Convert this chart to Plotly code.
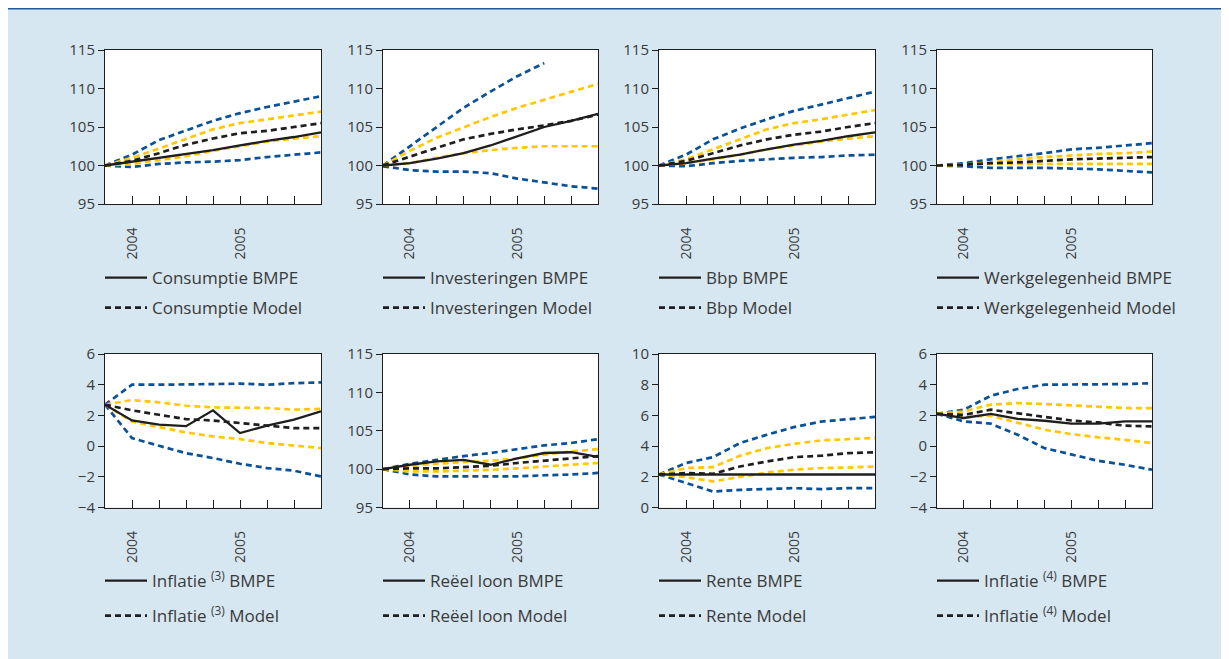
import plotly.graph_objects as go

W, H = 1229, 659

quarters = list(range(9))
tick_vals = [1, 5]
tick_text = ["2004", "2005"]

# ---- Consumptie ----
cons_bmpe = [100, 100.5, 101.0, 101.5, 102.0, 102.6, 103.2, 103.7, 104.3]
cons_model = [100, 100.6, 101.6, 102.7, 103.5, 104.2, 104.5, 105.0, 105.5]
cons_hi90 = [100, 101.4, 103.3, 104.6, 105.8, 106.8, 107.6, 108.3, 109.0]
cons_hi50 = [100, 101.0, 102.2, 103.5, 104.7, 105.5, 106.0, 106.5, 107.0]
cons_lo50 = [100, 100.2, 100.7, 101.2, 101.9, 102.5, 103.1, 103.5, 103.8]
cons_lo90 = [100, 99.8, 100.2, 100.4, 100.5, 100.7, 101.1, 101.4, 101.7]

# ---- Investeringen ----
inv_bmpe = [100, 100.3, 100.9, 101.6, 102.6, 103.8, 105.0, 105.8, 106.7]
inv_model = [100, 101.2, 102.3, 103.4, 104.1, 104.7, 105.2, 105.8, 106.6]
inv_hi90 = [100, 102.5, 105.0, 107.5, 109.6, 111.6, 113.3, None, None]
inv_hi50 = [100, 101.9, 103.6, 105.0, 106.3, 107.5, 108.5, 109.6, 110.6]
inv_lo50 = [100, 100.3, 101.0, 101.6, 102.0, 102.3, 102.5, 102.5, 102.5]
inv_lo90 = [99.9, 99.4, 99.2, 99.2, 99.0, 98.3, 97.8, 97.3, 97.0]

# ---- Bbp ----
bbp_bmpe = [100, 100.3, 100.9, 101.4, 102.1, 102.7, 103.2, 103.8, 104.3]
bbp_model = [100, 100.6, 101.6, 102.6, 103.4, 104.0, 104.4, 105.0, 105.5]
bbp_hi90 = [100, 101.4, 103.4, 104.8, 106.0, 107.1, 107.9, 108.8, 109.6]
bbp_hi50 = [100, 100.8, 102.1, 103.4, 104.7, 105.5, 106.0, 106.6, 107.2]
bbp_lo50 = [100, 100.3, 100.8, 101.4, 102.1, 102.6, 103.1, 103.5, 103.8]
bbp_lo90 = [100, 99.9, 100.3, 100.6, 100.8, 101.0, 101.1, 101.3, 101.4]

# ---- Werkgelegenheid ----
werk_bmpe = [None] * 9
werk_model = [100, 100.1, 100.3, 100.4, 100.6, 100.8, 100.9, 101.0, 101.1]
werk_hi90 = [100, 100.3, 100.8, 101.2, 101.6, 102.1, 102.3, 102.6, 102.9]
werk_hi50 = [100, 100.1, 100.4, 100.8, 101.1, 101.3, 101.5, 101.6, 101.8]
werk_lo50 = [100, 100.1, 100.2, 100.2, 100.2, 100.2, 100.2, 100.2, 100.2]
werk_lo90 = [100, 99.9, 99.7, 99.7, 99.7, 99.6, 99.5, 99.3, 99.1]

# ---- Inflatie (3) ----
inf3_bmpe = [2.7, 1.67, 1.4, 1.3, 2.33, 0.85, 1.33, 1.72, 2.26]
inf3_model = [2.7, 2.33, 2.04, 1.76, 1.67, 1.5, 1.33, 1.17, 1.17]
inf3_hi90 = [2.7, 4.0, 4.0, 4.04, 4.04, 4.07, 4.0, 4.1, 4.15]
inf3_hi50 = [2.7, 3.0, 2.85, 2.63, 2.52, 2.52, 2.48, 2.37, 2.43]
inf3_lo50 = [2.7, 1.6, 1.24, 0.89, 0.63, 0.46, 0.2, 0.02, -0.13]
inf3_lo90 = [2.7, 0.52, 0.02, -0.46, -0.78, -1.15, -1.43, -1.6, -1.98]

# ---- Reëel loon ----
loon_bmpe = [100, 100.57, 101.0, 101.2, 100.57, 101.4, 102.1, 102.2, 101.6]
loon_model = [100, 100.1, 100.1, 100.26, 100.44, 100.8, 101.1, 101.4, 101.7]
loon_hi90 = [100, 100.7, 101.2, 101.7, 102.1, 102.6, 103.1, 103.4, 103.9]
loon_hi50 = [100, 100.4, 100.7, 100.9, 101.1, 101.4, 101.9, 102.3, 102.6]
loon_lo50 = [100, 99.7, 99.7, 99.8, 99.9, 100.1, 100.35, 100.57, 100.8]
loon_lo90 = [100, 99.3, 99.05, 99.05, 99.05, 99.05, 99.2, 99.3, 99.5]

# ---- Rente ----
rente_bmpe = [2.15, 2.15, 2.15, 2.15, 2.15, 2.15, 2.15, 2.15, 2.15]
rente_model = [2.15, 2.24, 2.2, 2.67, 3.0, 3.28, 3.37, 3.54, 3.6]
rente_hi90 = [2.15, 2.9, 3.28, 4.2, 4.74, 5.24, 5.6, 5.76, 5.9]
rente_hi50 = [2.15, 2.57, 2.63, 3.37, 3.87, 4.15, 4.37, 4.46, 4.54]
rente_lo50 = [2.15, 1.98, 1.7, 1.98, 2.28, 2.46, 2.57, 2.6, 2.67]
rente_lo90 = [2.15, 1.59, 1.04, 1.15, 1.2, 1.26, 1.2, 1.26, 1.26]

# ---- Inflatie (4) ----
inf4_bmpe = [2.1, 1.83, 2.1, 1.78, 1.65, 1.46, 1.46, 1.61, 1.61]
inf4_model = [2.1, 2.04, 2.37, 2.15, 1.89, 1.67, 1.54, 1.33, 1.28]
inf4_hi90 = [2.1, 2.37, 3.28, 3.72, 4.0, 4.0, 4.0, 4.04, 4.1]
inf4_hi50 = [2.1, 2.26, 2.7, 2.8, 2.74, 2.65, 2.54, 2.48, 2.48]
inf4_lo50 = [2.1, 1.89, 1.98, 1.54, 1.07, 0.78, 0.57, 0.41, 0.2]
inf4_lo90 = [2.1, 1.61, 1.46, 0.74, -0.13, -0.57, -0.96, -1.22, -1.54]

labels = [
    "Consumptie", "Investeringen", "Bbp", "Werkgelegenheid",
    "Inflatie <sup>(3)</sup>", "Reëel loon", "Rente", "Inflatie <sup>(4)</sup>",
]
y_ranges = [[95, 115]] * 4 + [[-4, 6], [95, 115], [0, 10], [-4, 6]]
y_ticks = [[95, 100, 105, 110, 115]] * 4 + [
    [-4, -2, 0, 2, 4, 6], [95, 100, 105, 110, 115], [0, 2, 4, 6, 8, 10], [-4, -2, 0, 2, 4, 6]]
y_ticktext = [[str(v).replace("-", "\u2212") for v in t] for t in y_ticks]

series = [
    (cons_bmpe, cons_model, cons_hi90, cons_hi50, cons_lo50, cons_lo90),
    (inv_bmpe, inv_model, inv_hi90, inv_hi50, inv_lo50, inv_lo90),
    (bbp_bmpe, bbp_model, bbp_hi90, bbp_hi50, bbp_lo50, bbp_lo90),
    (werk_bmpe, werk_model, werk_hi90, werk_hi50, werk_lo50, werk_lo90),
    (inf3_bmpe, inf3_model, inf3_hi90, inf3_hi50, inf3_lo50, inf3_lo90),
    (loon_bmpe, loon_model, loon_hi90, loon_hi50, loon_lo50, loon_lo90),
    (rente_bmpe, rente_model, rente_hi90, rente_hi50, rente_lo50, rente_lo90),
    (inf4_bmpe, inf4_model, inf4_hi90, inf4_hi50, inf4_lo50, inf4_lo90),
]

BLUE = "#0a5197"
YELLOW = "#ffc800"
BLACK = "#1e1e1e"
TEXT = "#3a3a3a"
DASH = "6px,4px"

# figure-pixel positions of the plot boxes
col_px = [(97, 313), (375, 590), (651, 867), (929, 1144)]
row_px = [(42, 196), (346, 499.5)]
legend_top = [252, 555]

fig = go.Figure()
layout = dict(
    width=W, height=H,
    margin=dict(l=0, r=0, t=0, b=0, autoexpand=False),
    paper_bgcolor="#d6e7f1",
    plot_bgcolor="white",
    font=dict(family="Open Sans", color=TEXT, size=15),
    showlegend=True,
)

for k in range(8):
    r, c = divmod(k, 4)
    sfx = "" if k == 0 else str(k + 1)
    xa, ya = "x" + sfx, "y" + sfx
    lg = "legend" + sfx
    bmpe, model, hi90, hi50, lo50, lo90 = series[k]
    for vals, col in [(hi90, BLUE), (lo90, BLUE), (hi50, YELLOW), (lo50, YELLOW)]:
        fig.add_trace(go.Scatter(x=quarters, y=vals, mode="lines", xaxis=xa, yaxis=ya,
                                 line=dict(color=col, width=2.7, dash=DASH),
                                 showlegend=False, hoverinfo="skip"))
    fig.add_trace(go.Scatter(x=quarters, y=model, mode="lines", xaxis=xa, yaxis=ya,
                             name=labels[k] + " Model", legend=lg, legendgroup="m%d" % k,
                             legendrank=2,
                             line=dict(color=BLACK, width=2.7, dash=DASH)))
    fig.add_trace(go.Scatter(x=quarters, y=bmpe, mode="lines", xaxis=xa, yaxis=ya,
                             name=labels[k] + " BMPE", legend=lg, legendgroup="b%d" % k,
                             legendrank=1,
                             line=dict(color=BLACK, width=2.3)))
    x0, x1 = col_px[c]
    t0, t1 = row_px[r]
    layout["xaxis" + sfx] = dict(
        domain=[x0 / W, x1 / W], anchor=ya, range=[0, 8],
        tickvals=tick_vals, ticktext=tick_text, tickangle=-90,
        ticks="inside", ticklen=8, tickcolor=BLACK, tickwidth=1,
        minor=dict(tick0=0, dtick=1, ticks="inside", ticklen=8, tickcolor=BLACK,
                   tickwidth=1, showgrid=False),
        showline=True, linecolor=BLACK, linewidth=1, mirror=True,
        showgrid=False, zeroline=False, ticklabelstandoff=17, automargin=False,
        tickfont=dict(size=14, color=TEXT),
    )
    layout["yaxis" + sfx] = dict(
        domain=[1 - t1 / H, 1 - t0 / H], anchor=xa, range=y_ranges[k],
        tickvals=y_ticks[k], ticktext=y_ticktext[k],
        ticks="outside", ticklen=6, tickcolor=BLACK, tickwidth=1,
        showline=True, linecolor=BLACK, linewidth=1, mirror=True,
        showgrid=False, zeroline=False, automargin=False,
        tickfont=dict(size=15, color=TEXT),
    )
    layout[lg] = dict(
        x=(x0 - 5) / W, y=1 - legend_top[r] / H, xanchor="left", yanchor="top",
        bgcolor="rgba(0,0,0,0)", borderwidth=0,
        font=dict(size=17, color=TEXT, family="Open Sans"),
        tracegroupgap=5 if r == 0 else 10, itemwidth=42,
    )

layout["shapes"] = [
    dict(type="line", xref="paper", yref="paper", x0=0, x1=1,
         y0=1 - 0.5 / H, y1=1 - 0.5 / H,
         line=dict(color="#1c5a99", width=2)),
]

fig.update_layout(**layout)
fig.write_html("out.html")
